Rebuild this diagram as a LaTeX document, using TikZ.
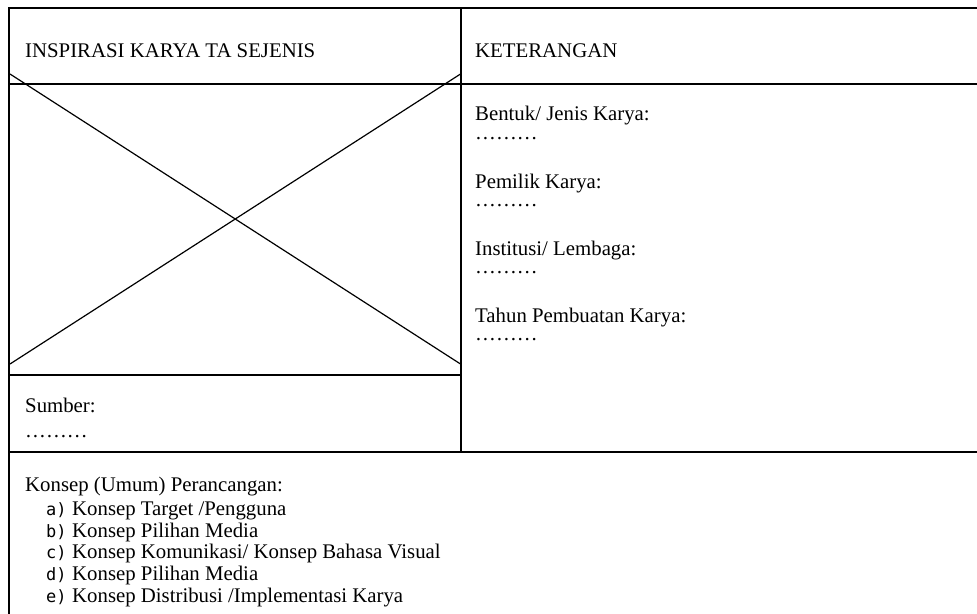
\documentclass[tikz,border=0pt]{standalone}
\usepackage{fontspec}
\setmainfont{Liberation Serif}
\newfontfamily\lblfont{DejaVu Sans Mono}
\begin{document}
\begin{tikzpicture}[x=1pt,y=-1pt,
  border/.style={line width=2.2pt,line cap=rect},
  diag/.style={line width=1.2pt},
  txt/.style={anchor=base west,inner sep=0pt,font=\fontsize{20.8}{21}\selectfont},
  lbl/.style={anchor=base west,inner sep=0pt,font=\lblfont\fontsize{17}{18}\selectfont}]
\useasboundingbox (0,0) rectangle (977,613);
\clip (0,0) rectangle (977,613);
% frame
\coordinate (tl) at (9,8);
\coordinate (tr) at (980,8);
\coordinate (bl) at (9,620);
\coordinate (h1l) at (9,84);
\coordinate (h1r) at (980,84);
\coordinate (vt) at (461,8);
\coordinate (vb) at (461,452);
\coordinate (h2l) at (9,375);
\coordinate (h2r) at (461,375);
\coordinate (h3l) at (9,452);
\coordinate (h3r) at (980,452);
\draw[border] (tr) -- (tl) -- (bl);
\draw[border] (h1l) -- (h1r);
\draw[border] (vt) -- (vb);
\draw[border] (h2l) -- (h2r);
\draw[border] (h3l) -- (h3r);
% cross
\coordinate (d1) at (10,74);
\coordinate (d2) at (460.5,364);
\coordinate (d3) at (460.5,74);
\coordinate (d4) at (10,364);
\draw[diag] (d1) -- (d2);
\draw[diag] (d3) -- (d4);
% texts
\node[txt] (insp) at (25,57) {INSPIRASI KARYA TA SEJENIS};
\node[txt] (ket) at (475,57) {KETERANGAN};
\node[txt] (bentuk) at (475,120) {Bentuk/ Jenis Karya:};
\node[txt] (bentukd) at (475,139) {………};
\node[txt] (pemilik) at (475,188) {Pemilik Karya:};
\node[txt] (pemilikd) at (475,206) {………};
\node[txt] (inst) at (475,255) {Institusi/ Lembaga:};
\node[txt] (instd) at (475,273) {………};
\node[txt] (tahun) at (475,322) {Tahun Pembuatan Karya:};
\node[txt] (tahund) at (475,340) {………};
\node[txt] (sumber) at (25,412) {Sumber:};
\node[txt] (sumberd) at (25,437) {………};
\node[txt] (konsep) at (25,491) {Konsep (Umum) Perancangan:};
\node[lbl] (la) at (46,515) {a)};
\node[txt] (ta) at (72,515) {Konsep Target /Pengguna};
\node[lbl] (lb) at (46,537) {b)};
\node[txt] (tb) at (72,537) {Konsep Pilihan Media};
\node[lbl] (lc) at (46,558) {c)};
\node[txt] (tc) at (72,558) {Konsep Komunikasi/ Konsep Bahasa Visual};
\node[lbl] (ld) at (46,580) {d)};
\node[txt] (td) at (72,580) {Konsep Pilihan Media};
\node[lbl] (le) at (46,602) {e)};
\node[txt] (te) at (72,602) {Konsep Distribusi /Implementasi Karya};
\end{tikzpicture}
\end{document}
